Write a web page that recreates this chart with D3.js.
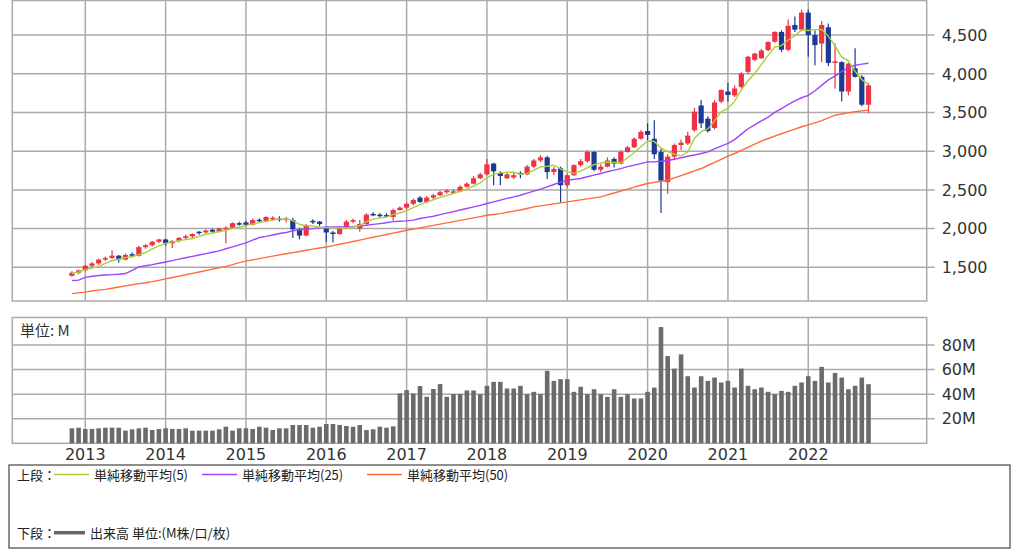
<!DOCTYPE html>
<html>
<head>
<meta charset="utf-8">
<script src="https://cdn.jsdelivr.net/npm/d3@7"></script>
<style>
  body { margin: 0; background: #fff; }
  text { font-family: "DejaVu Sans", sans-serif; }
  .jp { font-family: "Noto Sans CJK JP", sans-serif; }
</style>
</head>
<body>
<div class="container"></div>
<script>
  // monthly candles, Nov 2012 .. Oct 2022
  var opens = [
    1390,1430,1460,1520,1550,1600,1620,1650,1600,1670,
    1650,1760,1785,1830,1860,1810,1840,1880,1900,1960,
    1950,1985,1960,1990,2010,2070,2080,2050,2115,2100,
    2120,2130,2110,2110,1990,1910,2100,2090,2010,1950,
    1930,2010,2090,2000,2060,2190,2180,2175,2150,2240,
    2270,2320,2400,2345,2400,2430,2470,2470,2480,2540,
    2580,2650,2700,2840,2720,2650,2660,2720,2700,2800,
    2880,2920,2730,2780,2560,2690,2820,2870,2990,2760,
    2800,2900,2840,2990,3050,3160,3260,3160,2990,2600,
    2930,3080,3100,3270,3590,3420,3300,3640,3770,3720,
    3830,4025,4180,4200,4306,4414,4540,4310,4630,4570,
    4790,4500,4390,4600,4140,4150,3770,4070,3960,3600
  ];
  var highs = [
    1450,1470,1530,1570,1610,1640,1720,1660,1680,1690,
    1780,1800,1840,1870,1870,1850,1890,1920,1940,1970,
    1990,2000,2010,2030,2080,2090,2100,2130,2130,2160,
    2160,2160,2150,2140,2010,2060,2120,2100,2020,1970,
    2030,2110,2130,2110,2200,2210,2200,2200,2260,2290,
    2340,2390,2420,2420,2450,2490,2510,2510,2560,2600,
    2680,2720,2900,2850,2740,2720,2720,2740,2820,2900,
    2950,2940,2800,2800,2710,2830,2900,3010,3000,2830,
    2920,2920,3010,3070,3180,3270,3360,3400,3030,2960,
    3100,3150,3250,3560,3660,3450,3660,3800,3880,3850,
    4020,4230,4270,4320,4420,4550,4560,4700,4740,4830,
    4830,4560,4680,4650,4390,4160,4140,4330,3980,3880
  ];
  var lows = [
    1380,1410,1450,1500,1530,1580,1610,1560,1590,1630,
    1640,1740,1770,1810,1780,1750,1820,1860,1880,1920,
    1940,1950,1950,1810,2000,2040,2030,2040,2080,2090,
    2100,2090,2080,1880,1860,1900,2060,2030,1830,1820,
    1920,2000,2070,1960,2050,2160,2140,2150,2100,2230,
    2250,2300,2330,2330,2380,2420,2450,2450,2470,2530,
    2570,2640,2690,2560,2560,2640,2640,2650,2690,2780,
    2860,2640,2690,2340,2530,2680,2800,2850,2740,2730,
    2790,2790,2830,2980,3040,3150,3140,2900,2200,2450,
    2900,3020,3080,3250,3300,3240,3280,3620,3640,3700,
    3810,4000,4160,4190,4290,4400,4280,4290,4540,4550,
    4220,4110,4150,4100,3810,3640,3720,3950,3580,3490
  ];
  var closes = [
    1430,1460,1520,1550,1600,1620,1650,1600,1660,1650,
    1760,1785,1830,1860,1810,1840,1880,1900,1930,1950,
    1975,1960,2000,2010,2070,2060,2050,2110,2100,2150,
    2140,2110,2130,1990,1910,2040,2090,2060,1950,1930,
    2010,2090,2110,2060,2180,2170,2170,2160,2240,2270,
    2320,2370,2345,2400,2430,2470,2490,2480,2540,2580,
    2650,2700,2830,2740,2680,2700,2690,2700,2800,2880,
    2920,2730,2770,2560,2690,2820,2870,2990,2760,2800,
    2880,2840,2990,3050,3160,3250,3210,2960,2620,2930,
    3080,3110,3200,3510,3360,3260,3630,3790,3725,3810,
    4000,4220,4260,4300,4410,4540,4310,4620,4570,4790,
    4500,4370,4630,4140,4160,3770,4130,3960,3600,3850
  ];

  // moving averages
  var ma5 = [
    1420,1440,1470,1490,1512,1550,1588,1604,1626,1636,
    1664,1691,1737,1777,1809,1825,1844,1858,1872,1900,
    1927,1943,1963,1979,2003,2020,2038,2060,2078,2094,
    2110,2122,2126,2104,2056,2036,2032,2018,2010,2014,
    2008,2008,2018,2040,2090,2122,2138,2148,2184,2202,
    2232,2272,2309,2341,2373,2403,2427,2454,2482,2512,
    2548,2590,2660,2700,2720,2730,2728,2702,2714,2754,
    2798,2806,2820,2772,2734,2714,2742,2786,2826,2848,
    2860,2854,2854,2912,2984,3058,3132,3126,3040,2994,
    2960,2940,2988,3166,3252,3288,3392,3510,3553,3643,
    3791,3909,4003,4118,4238,4346,4364,4436,4490,4566,
    4558,4570,4572,4486,4360,4214,4166,4032,3924,3862
  ];
  var ma25 = [
    1330,1335,1370,1385,1395,1400,1405,1410,1420,1460,
    1505,1520,1535,1552,1569,1587,1605,1623,1641,1659,
    1677,1695,1713,1740,1765,1790,1815,1850,1885,1900,
    1918,1936,1950,1970,1985,1995,2000,2010,2020,2022,
    2022,2022,2025,2035,2043,2055,2065,2075,2090,2095,
    2100,2110,2130,2145,2160,2180,2200,2220,2240,2260,
    2280,2300,2324,2345,2367,2390,2410,2431,2458,2485,
    2510,2540,2570,2600,2625,2636,2647,2670,2690,2712,
    2735,2755,2775,2800,2819,2840,2862,2862,2870,2880,
    2895,2915,2935,2950,2970,2991,3030,3065,3100,3150,
    3220,3290,3340,3390,3440,3500,3550,3600,3650,3690,
    3720,3780,3850,3920,3970,4030,4080,4110,4125,4135
  ];
  var ma50 = [
    1160,1170,1180,1195,1205,1215,1230,1245,1260,1275,
    1290,1300,1315,1332,1350,1368,1386,1404,1422,1440,
    1458,1476,1494,1512,1535,1560,1580,1596,1612,1628,
    1644,1660,1675,1690,1705,1720,1735,1750,1763,1780,
    1798,1816,1834,1852,1870,1888,1906,1924,1942,1960,
    1978,1994,2010,2026,2042,2058,2074,2090,2106,2122,
    2138,2155,2172,2183,2194,2210,2225,2240,2260,2280,
    2293,2306,2319,2332,2345,2358,2371,2384,2397,2410,
    2435,2460,2485,2510,2535,2560,2582,2597,2612,2625,
    2655,2685,2715,2745,2776,2815,2855,2895,2935,2970,
    3010,3050,3090,3130,3164,3195,3225,3255,3285,3315,
    3340,3365,3395,3430,3466,3480,3495,3509,3520,3530
  ];

  // volume, millions
  var volumes = [
    12.2,12.7,11.7,11.7,12.2,12.7,12.7,12.7,10.3,11.4,
    12.2,12.7,10.8,11.7,12.2,11.7,11.7,12.2,10.3,10.3,
    10.3,10.3,11.4,13.5,10.3,12.2,12.2,11.7,13.5,12.7,
    10.8,12.2,12.2,14.9,14.9,14.9,12.7,13.5,15.7,15.7,
    14.9,14.1,13.5,14.9,10.8,11.4,13.5,12.7,13.8,40.6,
    43.3,40.6,46.6,37.9,44.2,48.2,37.9,40.1,40.1,43.0,
    43.0,40.0,46.8,50.0,50.0,44.6,44.6,46.8,40.0,41.9,
    40.0,59.0,50.8,52.2,52.2,41.9,46.0,40.0,44.0,40.0,
    37.8,44.0,37.8,40.0,36.5,36.5,41.9,45.4,94.6,71.0,
    60.8,72.4,54.6,45.4,54.6,50.8,53.5,49.5,50.8,45.4,
    60.8,46.8,44.0,45.4,41.9,40.0,42.7,41.9,46.8,49.5,
    54.6,50.8,62.2,49.5,57.3,53.5,44.0,46.8,53.5,48.1
  ];

  var years = [2013, 2014, 2015, 2016, 2017, 2018, 2019, 2020, 2021, 2022];
  var priceTicks = [1500, 2000, 2500, 3000, 3500, 4000, 4500];
  var volTicks = [20, 40, 60, 80];
  var months = d3.timeMonth.range(new Date(2012, 10, 1), new Date(2022, 10, 1));

  var width = 1024,
    height = 552,
    left = 12.3,
    right = 926.7;

  var upColor = "#ee3344",
    downColor = "#1b3a94",
    gridColor = "#aaaaaa",
    textColor = "#333";

  var svg = d3.select(".container").append("svg")
    .attr("width", width)
    .attr("height", height);

  var x = d3.scaleBand()
    .domain(d3.range(months.length))
    .range([68.55, 871.85])
    .padding(0);

  function cx(i) { return x(i) + x.bandwidth() / 2; }

  var y = d3.scaleLinear().domain([1065, 4946]).range([301, 0.5]);
  var yv = d3.scaleLinear().domain([0, 102.4]).range([443.3, 317.5]);

  var janIdx = years.map(function(yr) {
    return months.findIndex(function(m) { return m.getFullYear() === yr && m.getMonth() === 0; });
  });

  // panels
  function panel(top, bottom, scale, ticks, fmt) {
    var g = svg.append("g");
    g.selectAll(".hg")
      .data(ticks)
      .enter().append("line")
      .attr("x1", left).attr("x2", right + 8)
      .attr("y1", function(d) { return scale(d); })
      .attr("y2", function(d) { return scale(d); })
      .attr("stroke", gridColor).attr("stroke-width", 1.5);
    g.selectAll(".vg")
      .data(janIdx)
      .enter().append("line")
      .attr("x1", function(i) { return cx(i); })
      .attr("x2", function(i) { return cx(i); })
      .attr("y1", top).attr("y2", bottom)
      .attr("stroke", gridColor).attr("stroke-width", 1.5);
    g.append("rect")
      .attr("x", left).attr("y", top)
      .attr("width", right - left).attr("height", bottom - top)
      .attr("fill", "none").attr("stroke", gridColor).attr("stroke-width", 1.5);
    g.selectAll(".lbl")
      .data(ticks)
      .enter().append("text")
      .attr("x", right + 15)
      .attr("y", function(d) { return scale(d); })
      .attr("dy", "0.36em")
      .attr("font-size", "16px")
      .attr("fill", textColor)
      .text(fmt);
    return g;
  }

  panel(0.5, 301, y, priceTicks, d3.format(","));
  panel(317.5, 443.3, yv, volTicks, function(d) { return d + "M"; });

  // volume bars
  svg.append("g").selectAll("rect")
    .data(volumes)
    .enter().append("rect")
    .attr("x", function(d, i) { return cx(i) - 2.3; })
    .attr("width", 4.6)
    .attr("y", function(d) { return yv(d); })
    .attr("height", function(d) { return yv(0) - yv(d); })
    .attr("fill", "#6b6b6b");

  svg.append("text")
    .attr("class", "jp")
    .attr("x", 20).attr("y", 336)
    .attr("font-size", "15px")
    .attr("fill", textColor)
    .text("単位: M");

  // candles
  var candle = svg.append("g").selectAll("g")
    .data(closes)
    .enter().append("g")
    .attr("fill", function(d, i) { return d >= opens[i] ? upColor : downColor; })
    .attr("stroke", function(d, i) { return d >= opens[i] ? upColor : downColor; });

  candle.append("line")
    .attr("x1", function(d, i) { return cx(i); })
    .attr("x2", function(d, i) { return cx(i); })
    .attr("y1", function(d, i) { return y(highs[i]); })
    .attr("y2", function(d, i) { return y(lows[i]); })
    .attr("stroke-width", 1.2);

  candle.append("rect")
    .attr("stroke", "none")
    .attr("x", function(d, i) { return cx(i) - 2.6; })
    .attr("width", 5.2)
    .attr("y", function(d, i) { return y(Math.max(d, opens[i])); })
    .attr("height", function(d, i) { return Math.max(1.5, Math.abs(y(d) - y(opens[i]))); });

  // moving averages
  var maLines = [
    { values: ma50, color: "#ff6a3d" },
    { values: ma25, color: "#9d45ff" },
    { values: ma5, color: "#a9cf3a" }
  ];

  var line = d3.line()
    .x(function(d, i) { return cx(i); })
    .y(function(d) { return y(d); });

  svg.append("g").selectAll("path")
    .data(maLines)
    .enter().append("path")
    .attr("d", function(d) { return line(d.values); })
    .attr("fill", "none")
    .attr("stroke", function(d) { return d.color; })
    .attr("stroke-width", 1.4);

  // year labels
  svg.append("g").selectAll("text")
    .data(years)
    .enter().append("text")
    .attr("x", function(d, k) { return cx(janIdx[k]); })
    .attr("y", 460)
    .attr("text-anchor", "middle")
    .attr("font-size", "16px")
    .attr("fill", textColor)
    .text(function(d) { return d; });

  // legend
  var legend = svg.append("g");
  legend.append("rect")
    .attr("x", 9).attr("y", 465)
    .attr("width", 1001).attr("height", 83)
    .attr("fill", "#fff").attr("stroke", "#444").attr("stroke-width", 1.2);

  var legendItems = [
    { label: "単純移動平均(5)", color: "#a9cf3a", x: 54 },
    { label: "単純移動平均(25)", color: "#9d45ff", x: 202 },
    { label: "単純移動平均(50)", color: "#ff6a3d", x: 367 }
  ];

  legend.append("text").attr("class", "jp")
    .attr("x", 17).attr("y", 479.5)
    .attr("font-size", "13px").attr("fill", "#222")
    .text("上段：");

  var li = legend.selectAll(".item")
    .data(legendItems)
    .enter().append("g");
  li.append("line")
    .attr("x1", function(d) { return d.x; })
    .attr("x2", function(d) { return d.x + 35; })
    .attr("y1", 474.5).attr("y2", 474.5)
    .attr("stroke", function(d) { return d.color; })
    .attr("stroke-width", 1.5);
  li.append("text").attr("class", "jp")
    .attr("x", function(d) { return d.x + 40; })
    .attr("y", 479.5)
    .attr("font-size", "13px").attr("fill", "#222")
    .text(function(d) { return d.label; });

  legend.append("text").attr("class", "jp")
    .attr("x", 17).attr("y", 538)
    .attr("font-size", "13px").attr("fill", "#222")
    .text("下段：");
  legend.append("line")
    .attr("x1", 54).attr("x2", 85)
    .attr("y1", 532.7).attr("y2", 532.7)
    .attr("stroke", "#666").attr("stroke-width", 3.5);
  legend.append("text").attr("class", "jp")
    .attr("x", 90).attr("y", 538)
    .attr("font-size", "13px").attr("fill", "#222")
    .text("出来高 単位:(M株/口/枚)");
</script>
</body>
</html>
